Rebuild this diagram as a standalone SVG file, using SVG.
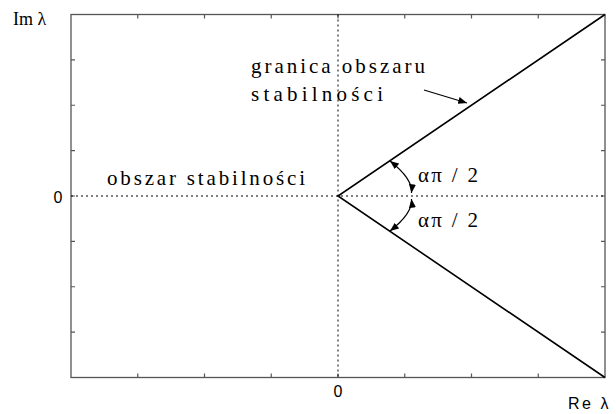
<svg xmlns="http://www.w3.org/2000/svg" width="616" height="414" viewBox="0 0 616 414">
<style>
.frame{fill:none;stroke:#555;stroke-width:1.3}
.tick{stroke:#555;stroke-width:1.2}
.dot{stroke:#000;stroke-width:1;stroke-dasharray:2,3;fill:none}
.edge{stroke:#000;stroke-width:1.6;fill:none}
.arc{stroke:#000;stroke-width:1.2;fill:none}
</style>
<defs>
<marker id="ah" viewBox="0 0 10 8" refX="10" refY="4" markerWidth="9" markerHeight="7" markerUnits="userSpaceOnUse" orient="auto-start-reverse">
<path d="M0,0 L10,4 L0,8 z" fill="#000"/>
</marker>
</defs>
<rect width="616" height="414" fill="#fff"/>
<rect class="frame" x="71" y="14.5" width="534" height="363"/>
<path class="tick" d="M137.75,377.5v-4M204.5,377.5v-4M271.25,377.5v-4M338,377.5v-4M404.75,377.5v-4M471.5,377.5v-4M538.25,377.5v-4M137.75,14.5v4M204.5,14.5v4M271.25,14.5v4M338,14.5v4M404.75,14.5v4M471.5,14.5v4M538.25,14.5v4M71,59.9h4M71,105.25h4M71,150.6h4M71,196h4M71,241.4h4M71,286.75h4M71,332.1h4M605,59.9h-4M605,105.25h-4M605,150.6h-4M605,196h-4M605,241.4h-4M605,286.75h-4M605,332.1h-4"/>
<g id="connectors">
<line class="dot" x1="338" y1="14.5" x2="338" y2="377.5"/>
<line class="dot" x1="71" y1="196" x2="605" y2="196"/>
<path class="edge" d="M605,14.5 L338,196 L605,377.5"/>
<path class="arc" d="M390,161 Q413,179 411.5,193" marker-start="url(#ah)" marker-end="url(#ah)"/>
<path class="arc" d="M390,231 Q413,213 411.5,199" marker-start="url(#ah)" marker-end="url(#ah)"/>
<line class="arc" x1="424" y1="90" x2="467" y2="103" marker-end="url(#ah)"/>
</g>
<text x="13" y="25" font-family="Liberation Serif" font-size="18" fill="#000">Im λ</text>
<text x="568" y="409" letter-spacing="2.5" font-family="Liberation Sans" font-size="16" fill="#000">Re λ</text>
<text x="338" y="397" text-anchor="middle" font-family="Liberation Sans" font-size="16" fill="#000">0</text>
<text x="58" y="203" text-anchor="middle" font-family="Liberation Sans" font-size="16" fill="#000">0</text>
<text x="251" y="73" textLength="174" lengthAdjust="spacing" font-family="Liberation Serif" font-size="21" fill="#000">granica obszaru</text>
<text x="251" y="101" textLength="132" lengthAdjust="spacing" font-family="Liberation Serif" font-size="21" fill="#000">stabilności</text>
<text x="107" y="185" textLength="198" lengthAdjust="spacing" font-family="Liberation Serif" font-size="21" fill="#000">obszar stabilności</text>
<text x="418" y="182" textLength="60" lengthAdjust="spacing" font-family="Liberation Serif" font-size="21" fill="#000">απ / 2</text>
<text x="418" y="227" textLength="60" lengthAdjust="spacing" font-family="Liberation Serif" font-size="21" fill="#000">απ / 2</text>
</svg>
